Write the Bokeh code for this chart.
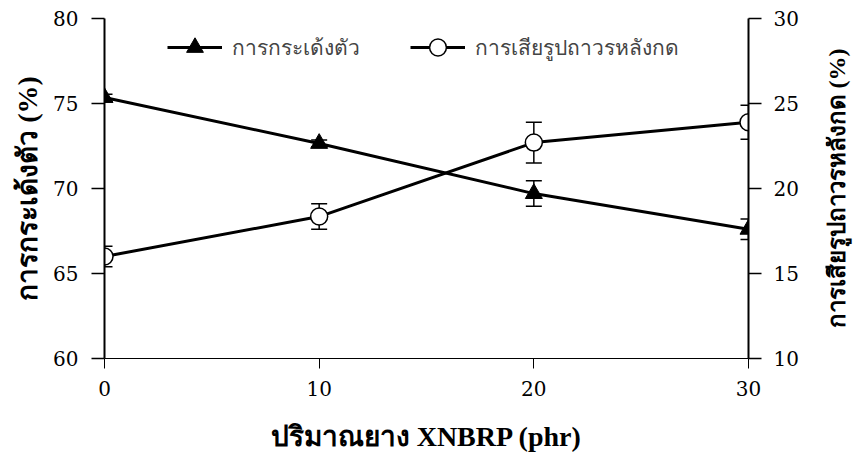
import math
from bokeh.plotting import figure
from bokeh.layouts import row
from bokeh.models import Range1d, LinearAxis, Whisker, ColumnDataSource, Legend, LegendItem, FixedTicker
from bokeh.core.properties import value
from bokeh.embed import file_html
from bokeh.resources import INLINE

content = [0, 10, 20, 30]
rebound = [75.35, 72.65, 69.7, 67.6]
rebound_err = [0.2, 0.2, 0.75, 0.6]
cset = [16.0, 18.35, 22.7, 23.9]
cset_err = [0.6, 0.75, 1.2, 1.0]
x_ticks = [0, 10, 20, 30]
left_ticks = [60, 65, 70, 75, 80]
right_ticks = [10, 15, 20, 25, 30]
x_label = "ปริมาณยาง XNBRP (phr)"
left_label = "การกระเด้งตัว (%)"
right_label = "การเสียรูปถาวรหลังกด (%)"
names = ["การกระเด้งตัว", "การเสียรูปถาวรหลังกด"]

p = figure(width=825, height=463, output_backend="svg", toolbar_location=None,
           x_range=Range1d(0, 30), y_range=Range1d(60, 80),
           min_border_left=104, min_border_right=77, min_border_top=18, min_border_bottom=105)
p.extra_y_ranges = {"r": Range1d(10, 30)}
p.xgrid.visible = False
p.ygrid.visible = False
p.outline_line_color = None

src1 = ColumnDataSource(dict(x=content, y=rebound,
                             lo=[a - b for a, b in zip(rebound, rebound_err)],
                             hi=[a + b for a, b in zip(rebound, rebound_err)]))
src2 = ColumnDataSource(dict(x=content, y=cset,
                             lo=[a - b for a, b in zip(cset, cset_err)],
                             hi=[a + b for a, b in zip(cset, cset_err)]))

w1 = Whisker(source=src1, base="x", lower="lo", upper="hi", line_color="black", line_width=1.5)
w2 = Whisker(source=src2, base="x", lower="lo", upper="hi", line_color="black", line_width=1.5,
             y_range_name="r")
for w in (w1, w2):
    w.upper_head.size = 16; w.lower_head.size = 16
    w.upper_head.line_width = 1.5; w.lower_head.line_width = 1.5
    p.add_layout(w)

l1 = p.line("x", "y", source=src1, line_color="black", line_width=3)
m1 = p.scatter("x", "y", source=src1, marker="triangle", size=17, fill_color="black", line_color="black")
l2 = p.line("x", "y", source=src2, line_color="black", line_width=3, y_range_name="r")
m2 = p.scatter("x", "y", source=src2, marker="circle", size=17, fill_color="white", line_color="black",
               line_width=1.5, y_range_name="r")

serif = "DejaVu Serif"
p.xaxis.ticker = FixedTicker(ticks=x_ticks)
p.xaxis.axis_label = x_label
p.xaxis.axis_line_width = 1
p.xaxis.major_tick_in = 0
p.xaxis.major_tick_out = 10
p.xaxis.minor_tick_line_color = None
p.xaxis.major_label_standoff = 12
p.xaxis.axis_label_standoff = 22

p.yaxis.ticker = FixedTicker(ticks=left_ticks)
p.yaxis.axis_label = left_label
p.yaxis.axis_line_width = 2
p.yaxis.major_label_standoff = 13
p.yaxis.axis_label_standoff = 7

ra = LinearAxis(y_range_name="r", ticker=FixedTicker(ticks=right_ticks))
ra.axis_line_width = 2
ra.major_label_standoff = 12
p.add_layout(ra, "right")

for ax in [p.yaxis[0], ra]:
    ax.major_tick_in = 0
    ax.major_tick_out = 13
    ax.minor_tick_line_color = None
    ax.major_tick_line_width = 1.5

for ax in [p.xaxis[0], p.yaxis[0], ra]:
    ax.major_label_text_font = serif
    ax.major_label_text_font_size = "20px"
    ax.major_label_text_color = "black"
    ax.axis_label_text_font = "Liberation Serif"
    ax.axis_label_text_font_style = "bold"
    ax.axis_label_text_font_size = "28px"
    ax.axis_label_text_color = "black"
    ax.axis_line_color = "black"
    ax.major_tick_line_color = "black"

legend = Legend(items=[LegendItem(label=names[0], renderers=[l1, m1]),
                       LegendItem(label=names[1], renderers=[l2, m2])],
                orientation="horizontal", location=(63, 290), padding=0, margin=0,
                glyph_width=55, glyph_height=42, label_standoff=10, spacing=50,
                background_fill_alpha=0, border_line_color=None,
                label_text_font="Liberation Sans", label_text_font_size="21px",
                label_text_baseline="middle", label_height=42)
p.add_layout(legend, "center")

# narrow strip holding the right axis title, reading bottom-to-top like the left one
p2 = figure(width=28, height=463, output_backend="svg", toolbar_location=None,
            x_range=Range1d(0, 1), y_range=Range1d(0, 1),
            x_axis_location=None, y_axis_location=None,
            min_border=0, min_border_left=0, min_border_right=0,
            min_border_top=0, min_border_bottom=0)
p2.xgrid.visible = False
p2.ygrid.visible = False
p2.outline_line_color = None
p2.text(x=[0.4], y=[0.5], text=[right_label], angle=math.pi / 2,
        text_align="center", text_baseline="middle",
        text_font=value("Liberation Serif"), text_font_style="bold",
        text_font_size="24px", text_color="black")

layout = row(p, p2, spacing=0)
open("out.html", "w").write(file_html(layout, INLINE))
